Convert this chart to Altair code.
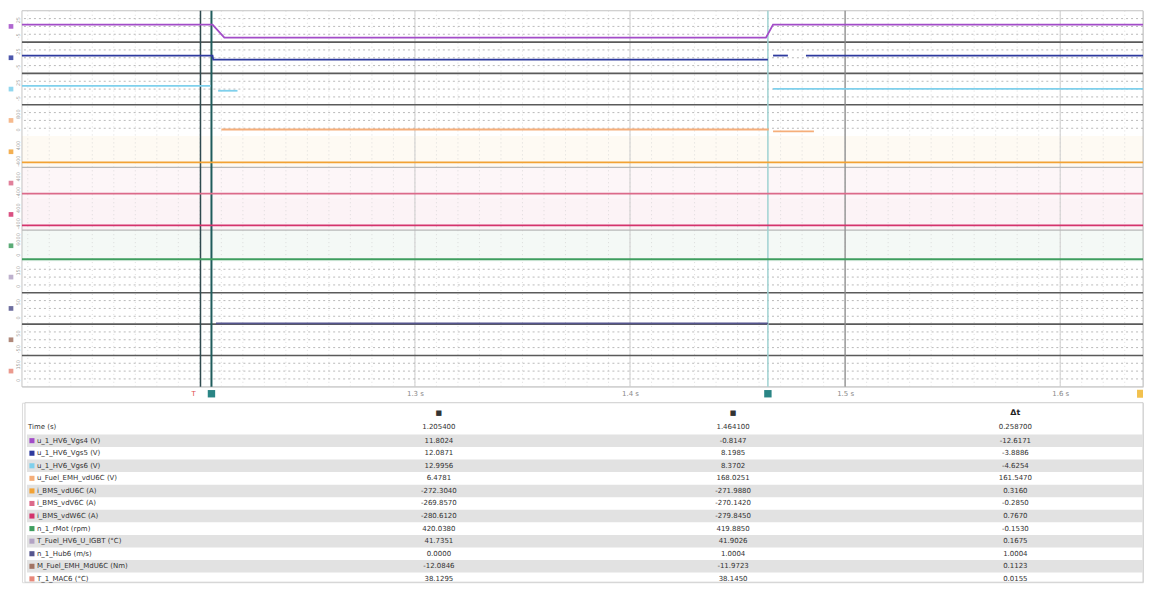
import altair as alt
import pandas as pd

# ---------------- data ----------------
T0, T1 = 1.1173, 1.6385
tick_times = [1.3, 1.4, 1.5, 1.6]
trigger_t = 1.2003
cursor_a = 1.2054
cursor_b = 1.4641

names = ["u_1_HV6_Vgs4 (V)", "u_1_HV6_Vgs5 (V)", "u_1_HV6_Vgs6 (V)",
         "u_Fuel_EMH_vdU6C (V)", "i_BMS_vdU6C (A)", "i_BMS_vdV6C (A)",
         "i_BMS_vdW6C (A)", "n_1_rMot (rpm)", "T_Fuel_HV6_U_IGBT (°C)",
         "n_1_Hub6 (m/s)", "M_Fuel_EMH_MdU6C (Nm)", "T_1_MAC6 (°C)"]
line_colors = ["#a24cc8", "#2e3a9e", "#7fd0ec", "#f5ae7a", "#f2a234", "#dc6a8a",
               "#d4336c", "#3f9e5f", "#b3a3c4", "#55558e", "#a27464", "#e8887a"]
lane_lo = [-5, -5, -5, 0, -400, -400, -400, 0, 0, 0, -50, 0]
lane_hi = [25, 25, 25, 800, 400, 400, 400, 6000, 150, 50, 50, 150]

# signal samples: time, value, segment id (gaps between segments)
sig_t = {
    0: [T0, 1.2059, 1.2114, 1.4632, 1.4665, T1],
    1: [T0, 1.2059, 1.2062, 1.4641, 1.4665, 1.4734, 1.4818, T1],
    2: [T0, 1.2050, 1.2085, 1.2175, 1.4665, T1],
    3: [1.2100, 1.4645, 1.4665, 1.4855],
    4: [T0, T1],
    5: [T0, T1],
    6: [T0, T1],
    7: [T0, T1],
    9: [1.2075, 1.4641],
}
sig_v = {
    0: [11.8, 11.8, -0.8, -0.8, 11.8, 11.8],
    1: [12.1, 12.1, 8.2, 8.2, 12.1, 12.1, 12.1, 12.1],
    2: [13.0, 13.0, 8.4, 8.4, 10.3, 10.3],
    3: [168, 168, 120, 120],
    4: [-272, -272],
    5: [-270, -270],
    6: [-280, -280],
    7: [420, 420],
    9: [1.0, 1.0],
}
sig_seg = {
    0: [0, 0, 0, 0, 0, 0],
    1: [0, 0, 0, 0, 1, 1, 2, 2],
    2: [0, 0, 1, 1, 2, 2],
    3: [0, 0, 1, 1],
    4: [0, 0], 5: [0, 0], 6: [0, 0], 7: [0, 0], 9: [0, 0],
}

# table values at cursor A and cursor B
val_a = [11.8024, 12.0871, 12.9956, 6.4781, -272.304, -269.857, -280.612,
         420.038, 41.7351, 0.0000, -12.0846, 38.1295]
val_b = [-0.8147, 8.1985, 8.3702, 168.0251, -271.988, -270.142, -279.845,
         419.885, 41.9026, 1.0004, -11.9723, 38.1450]

# ---------------- build tables ----------------
rows = []
for k in sig_t:
    lo, hi = lane_lo[k], lane_hi[k]
    for t, v, s in zip(sig_t[k], sig_v[k], sig_seg[k]):
        rows.append({"t": t, "y": k + (hi - v) / (hi - lo), "sig": names[k],
                     "key": f"{k}-{s}"})
sig_df = pd.DataFrame(rows)

W, H = 1124, 377
xscale = alt.Scale(domain=[T0, T1], nice=False, zero=False)
yscale = alt.Scale(domain=[0, 12], reverse=True, nice=False, zero=False)
cscale = alt.Scale(domain=names, range=line_colors)
xaxis = alt.Axis(values=tick_times, format=".1f", title=None, grid=False,
                 domain=False, ticks=False, labelFontSize=7,
                 labelColor="#8a8a8a", labelPadding=3,
                 labelExpr="datum.label + ' s'")

def X():
    return alt.X("t:Q", scale=xscale, axis=xaxis)

frame = alt.Chart(pd.DataFrame({"a": [0]})).mark_rect(
    fill="white", stroke="#c4c4c4", strokeWidth=1).encode(
    x=alt.value(0), x2=alt.value(W), y=alt.value(0), y2=alt.value(H))

band_df = pd.DataFrame({"y0": [4, 5, 6, 7], "y1": [5, 6, 7, 8],
                        "sig": [names[i] for i in [4, 5, 6, 7]]})
bands = alt.Chart(band_df).mark_rect(opacity=0.06).encode(
    y=alt.Y("y0:Q", scale=yscale, axis=None), y2="y1:Q",
    x=alt.value(0), x2=alt.value(W),
    color=alt.Color("sig:N", scale=cscale, legend=None))

minor_t = [round(1.12 + 0.01 * i, 2) for i in range(52)]
vgrid = alt.Chart(pd.DataFrame({"t": minor_t})).mark_rule(
    color="#d0d0d0", strokeWidth=0.7, strokeDash=[1, 3]).encode(x=X())

major = alt.Chart(pd.DataFrame({"t": tick_times})).mark_rule(
    color="#cdcdcd", strokeWidth=1).encode(x=X())

grid_lanes = [0, 1, 2, 3, 8, 9, 10, 11]
hpos = [l + f for l in grid_lanes for f in (0.25, 0.5, 0.75)]
hgrid = alt.Chart(pd.DataFrame({"y": hpos})).mark_rule(
    color="#9c9c9c", strokeWidth=1, strokeDash=[2, 3], opacity=0.7).encode(
    y=alt.Y("y:Q", scale=yscale, axis=None))

dark_b = [1, 2, 3, 9, 10, 11]
light_b = [5, 7]
bdark = alt.Chart(pd.DataFrame({"y": dark_b})).mark_rule(
    color="#5a5a5a", strokeWidth=1.6).encode(y=alt.Y("y:Q", scale=yscale, axis=None))
blight = alt.Chart(pd.DataFrame({"y": light_b})).mark_rule(
    color="#b8b8b8", strokeWidth=1.2).encode(y=alt.Y("y:Q", scale=yscale, axis=None))

def vrule(t, color, width):
    return alt.Chart(pd.DataFrame({"t": [t]})).mark_rule(
        color=color, strokeWidth=width).encode(x=X())

r_grid = vrule(1.5, "#8e8e8e", 1.2)
r_trig = vrule(trigger_t, "#2f4a4f", 1.5)
r_a = vrule(cursor_a, "#1f5c5c", 2)
r_b = vrule(cursor_b, "#9fd2d2", 1.5)

lines = alt.Chart(sig_df).mark_line(strokeWidth=1.8, interpolate="linear").encode(
    x=X(), y=alt.Y("y:Q", scale=yscale, axis=None),
    color=alt.Color("sig:N", scale=cscale, legend=None),
    detail="key:N")

icon_df = pd.DataFrame({"y": [k + 0.5 for k in range(12)], "sig": names})
icons = alt.Chart(icon_df).mark_square(size=22, opacity=0.85).encode(
    y=alt.Y("y:Q", scale=yscale, axis=None), x=alt.value(-11),
    color=alt.Color("sig:N", scale=cscale, legend=None))
lab_df = pd.DataFrame({"y": [k + 0.3 for k in range(12)] + [k + 0.8 for k in range(12)],
                       "txt": [str(v) for v in lane_hi] + [str(v) for v in lane_lo]})
lane_labels = alt.Chart(lab_df).mark_text(fontSize=5, color="#a0a0a0", angle=270,
                                          baseline="middle").encode(
    y=alt.Y("y:Q", scale=yscale, axis=None), x=alt.value(-4), text="txt:N")

mk_df = pd.DataFrame({"t": [cursor_a, cursor_b]})
markers = alt.Chart(mk_df).mark_square(size=55, color="#2a8585", opacity=1).encode(
    x=X(), y=alt.value(H + 7))
end_mk = alt.Chart(pd.DataFrame({"a": [0]})).mark_rect(color="#f2c14e").encode(
    x=alt.value(W - 6), x2=alt.value(W), y=alt.value(H + 3), y2=alt.value(H + 11))
trig_mk = alt.Chart(pd.DataFrame({"t": [trigger_t]})).mark_text(
    text="T", color="#e05050", fontSize=7, dx=-7).encode(x=X(), y=alt.value(H + 7))

wave = alt.layer(frame, bands, vgrid, major, hgrid, blight, bdark, r_grid, r_trig, r_a, r_b,
                 lines, icons, lane_labels, markers, end_mk, trig_mk
                 ).properties(width=W, height=H)

# ---------------- table ----------------
TH = 180
tyscale = alt.Scale(domain=[-3.02, 11.27], reverse=True, nice=False, zero=False)
fmt = lambda v: f"{v:.4f}"
tab_df = pd.DataFrame({
    "row": list(range(12)), "name": names,
    "a": [fmt(v) for v in val_a], "b": [fmt(v) for v in val_b],
    "d": [fmt(b - a) for a, b in zip(val_a, val_b)],
    "y0": [i - 0.5 for i in range(12)], "y1": [i + 0.5 for i in range(12)],
    "odd": [i % 2 for i in range(12)],
})
tbase = alt.Chart(tab_df)
anchor = alt.Chart(pd.DataFrame({"a": [0]})).mark_square(size=22, opacity=0).encode(
    x=alt.value(-11), y=alt.value(5))
border = alt.Chart(pd.DataFrame({"a": [0]})).mark_rect(
    fill="white", stroke="#cfcfcf", strokeWidth=1).encode(
    x=alt.value(3), x2=alt.value(W), y=alt.value(0), y2=alt.value(TH))
stripes = tbase.transform_filter("datum.odd == 0").mark_rect(color="#e2e2e2").encode(
    y=alt.Y("y0:Q", scale=tyscale, axis=None), y2="y1:Q",
    x=alt.value(5), x2=alt.value(W))
tsq = tbase.mark_square(size=26, opacity=1).encode(
    y=alt.Y("row:Q", scale=tyscale, axis=None), x=alt.value(10),
    color=alt.Color("name:N", scale=cscale, legend=None))
tname = tbase.mark_text(align="left", fontSize=7, color="#333").encode(
    y=alt.Y("row:Q", scale=tyscale, axis=None), x=alt.value(15), text="name:N")
ta = tbase.mark_text(fontSize=7, color="#333").encode(
    y=alt.Y("row:Q", scale=tyscale, axis=None), x=alt.value(418), text="a:N")
tb = tbase.mark_text(fontSize=7, color="#333").encode(
    y=alt.Y("row:Q", scale=tyscale, axis=None), x=alt.value(713), text="b:N")
td = tbase.mark_text(fontSize=7, color="#333").encode(
    y=alt.Y("row:Q", scale=tyscale, axis=None), x=alt.value(996), text="d:N")

hdr_df = pd.DataFrame({
    "y": [-2.23, -2.23, -2.23, -1.12, -1.12, -1.12, -1.12],
    "x": ["A", "B", "D", "L", "A", "B", "D"],
    "txt": ["■", "■", "Δt", "Time (s)", f"{cursor_a:.6f}", f"{cursor_b:.6f}",
            f"{cursor_b - cursor_a:.6f}"],
    "bold": [0, 0, 1, 0, 0, 0, 0],
})
def hdr(col, px, align="center"):
    base = alt.Chart(hdr_df).transform_filter(f"datum.x == '{col}'")
    enc = dict(y=alt.Y("y:Q", scale=tyscale, axis=None), x=alt.value(px), text="txt:N")
    n = base.transform_filter("datum.bold == 0").mark_text(
        align=align, fontSize=7, color="#333").encode(**enc)
    b = base.transform_filter("datum.bold == 1").mark_text(
        align=align, fontSize=8, fontWeight="bold", color="#222").encode(**enc)
    return alt.layer(n, b)

table = alt.layer(anchor, border, stripes, tsq, tname, ta, tb, td,
                  hdr("A", 418), hdr("B", 713), hdr("D", 996), hdr("L", 6, "left")
                  ).properties(width=W, height=TH)

chart = alt.vconcat(wave, table, spacing=3).properties(
    padding={"left": 0, "top": 0, "right": 0, "bottom": 0}
).configure_view(stroke=None).configure(font="DejaVu Sans")

chart.save("out.html", embed_options={"renderer": "svg", "actions": False})
